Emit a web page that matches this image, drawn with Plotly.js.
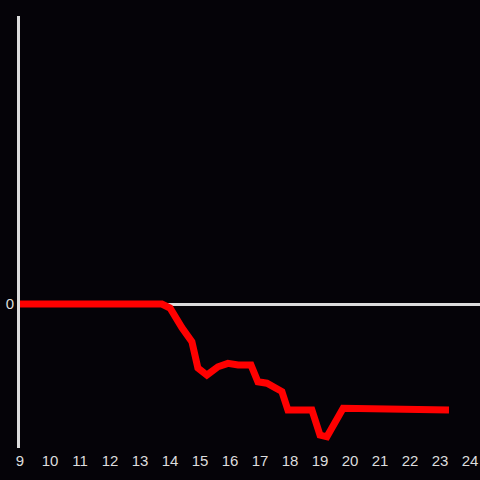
<!DOCTYPE html>
<html>
<head>
<meta charset="utf-8">
<script src="https://cdn.plot.ly/plotly-3.0.1.min.js"></script>
<style>html,body{margin:0;padding:0;background:#050308;}#chart{width:480px;height:480px;}</style>
</head>
<body>
<div id="chart"></div>
<script>
const hours = [9.0, 13.73, 14.0, 14.23, 14.4, 14.73, 14.93, 15.23, 15.6, 15.93, 16.27, 16.7, 16.93, 17.23, 17.73, 17.93, 18.73, 19.0, 19.23, 19.77, 21.67, 21.83, 23.3];
const values = [0, 0, -1.4, -5.6, -8.3, -13.1, -22.2, -24.7, -21.8, -20.6, -21.2, -21.2, -27.0, -27.5, -30.4, -36.8, -36.8, -45.5, -46.1, -36.2, -36.2, -36.8, -36.8];
const xTicks = [9,10,11,12,13,14,15,16,17,18,19,20,21,22,23,24];

const trace = {
  x: hours, y: values, type: 'scatter', mode: 'lines',
  line: {color: '#ff0000', width: 7},
  hoverinfo: 'skip'
};
const layout = {
  width: 480, height: 480,
  paper_bgcolor: '#050308', plot_bgcolor: '#050308',
  margin: {l: 20, r: 0, t: 16, b: 32},
  showlegend: false,
  font: {family: 'Liberation Sans, Arial, sans-serif', size: 15, color: '#dddddd'},
  xaxis: {
    range: [9, 24.333], tickvals: xTicks, ticktext: xTicks.map(String),
    showgrid: false, zeroline: false, showline: false, ticks: '',
    tickfont: {size: 15, color: '#dddddd'}, ticklabelstandoff: 2
  },
  yaxis: {
    range: [-50, 100], tickvals: [0], ticktext: ['0'],
    showgrid: false, zeroline: true, zerolinecolor: '#dcdcdc', zerolinewidth: 3,
    showline: true, linecolor: '#dcdcdc', linewidth: 3, ticks: '',
    tickfont: {size: 15, color: '#dddddd'}, ticklabelstandoff: 0
  }
};
Plotly.newPlot('chart', [trace], layout, {displayModeBar: false, staticPlot: true});
</script>
</body>
</html>
